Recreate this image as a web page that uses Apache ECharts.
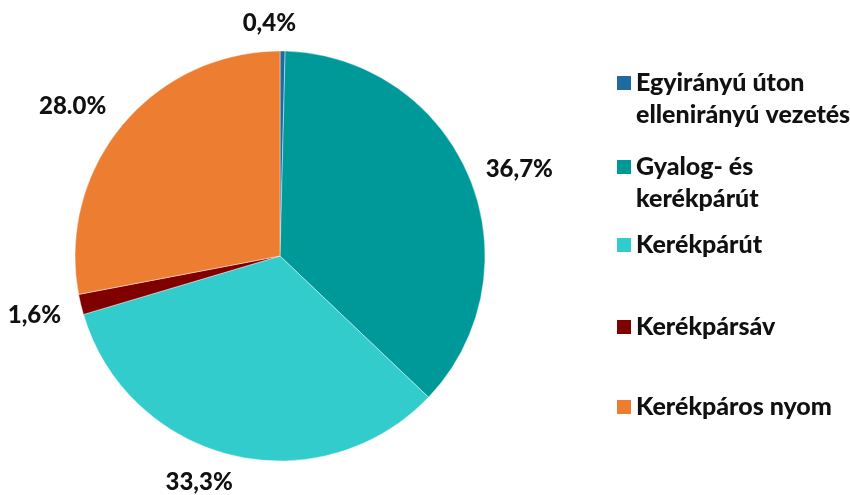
<!DOCTYPE html>
<html><head><meta charset="utf-8">
<script src="https://cdn.jsdelivr.net/npm/echarts@6/dist/echarts.min.js"></script>
<style>html,body{margin:0;padding:0;background:#fff}#c{width:850px;height:495px}</style>
</head><body><div id="c"></div>
<script>
var categories = ['Egyirányú úton\nellenirányú vezetés', 'Gyalog- és\nkerékpárút', 'Kerékpárút', 'Kerékpársáv', 'Kerékpáros nyom'];
var values = [0.4, 36.7, 33.3, 1.6, 28.0];
var labels = ['0,4%', '36,7%', '33,3%', '1,6%', '28.0%'];
var colors = ['#1F6AA0', '#009999', '#33CCCC', '#800000', '#ED7D31'];
var legendTops = [83, 167, 245, 327, 407];

var font = 'Lato';
var chart = echarts.init(document.getElementById('c'));
var legends = categories.map(function (name, i) {
  var twoLine = name.indexOf('\n') >= 0;
  return {
    orient: 'vertical',
    left: 612,
    top: legendTops[i] - 21,
    icon: twoLine ? 'path://M0,0H14V14H0Z M0,46H14' : 'rect',
    itemWidth: 14, itemHeight: twoLine ? 46 : 14,
    itemGap: 0,
    selectedMode: false,
    itemStyle: { borderWidth: 0 },
    data: [name],
    textStyle: {
      fontFamily: font, fontWeight: 900, fontSize: 25, color: '#111',
      lineHeight: 32
    }
  };
});
var labelShift = [[-47, -18], [0, -4], [10, 17], [-3, 8], [-1, -13]];
chart.setOption({
  animation: false,
  color: colors,
  legend: legends,
  series: [{
    type: 'pie',
    center: [280, 256],
    radius: 205,
    startAngle: 90,
    clockwise: true,
    avoidLabelOverlap: false,
    itemStyle: { borderColor: 'rgba(255,255,255,0.6)', borderWidth: 0.7 },
    label: {
      show: true,
      position: 'outside',
      fontFamily: font, fontWeight: 900, fontSize: 24, color: '#111',
      formatter: function (p) { return labels[p.dataIndex]; }
    },
    labelLine: { show: false, length: 10, length2: 2 },
    labelLayout: function (p) {
      var s = labelShift[p.dataIndex];
      return { dx: s[0], dy: s[1] };
    },
    data: categories.map(function (n, i) { return { name: n, value: values[i] }; })
  }]
});
</script></body></html>
